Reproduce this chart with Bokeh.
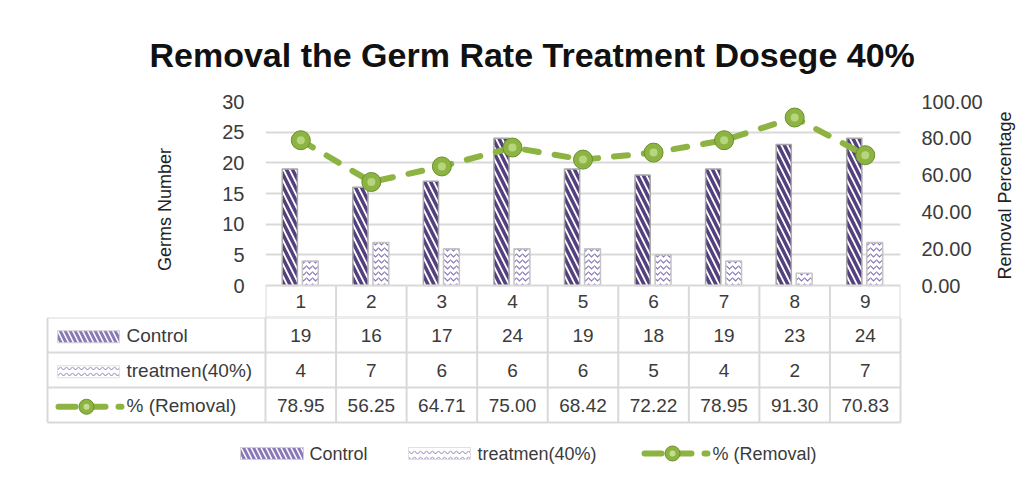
import math
from bokeh.plotting import figure
from bokeh.layouts import column, row
from bokeh.models import Range1d, LinearAxis, FixedTicker, PrintfTickFormatter, ColumnDataSource
from bokeh.transform import dodge
from bokeh.core.properties import value
from bokeh.embed import file_html
from bokeh.resources import INLINE

# ---------------- data ----------------
categories = [1, 2, 3, 4, 5, 6, 7, 8, 9]
control = [19, 16, 17, 24, 19, 18, 19, 23, 24]
treatment = [4, 7, 6, 6, 6, 5, 4, 2, 7]
removal = [78.95, 56.25, 64.71, 75.00, 68.42, 72.22, 78.95, 91.30, 70.83]
series_names = ["Control", "treatmen(40%)", "% (Removal)"]
left_ticks = [0, 5, 10, 15, 20, 25, 30]
right_ticks = [0, 20, 40, 60, 80, 100]
title_text = "Removal the Germ Rate Treatment Dosege 40%"
left_title = "Germs Number"
right_title = "Removal Percentage"

# ---------------- style ----------------
FONT = "Liberation Sans"
TXT = "#3b3b3b"
GRID = "#d9d9d9"
PURPLE = "#54407f"
PURPLE_L = "#8a78b8"
GREEN = "#8db443"
GREEN_D = "#6a8f2a"
GREEN_L = "#c2dd8c"

W = 1027
SIDE_X = 990                         # where the strip holding the secondary title starts
FRAME_L, FRAME_R = 265, 900
FRAME_T, ZERO_Y = 101, 285
COLW = (FRAME_R - FRAME_L) / 9.0     # pixel width of a category column
PXY = (ZERO_Y - FRAME_T) / 30.0      # pixels per germ unit
HEADER_PX = 32                       # header row height
ROW_PX = 35
TOP_H = ZERO_Y + HEADER_PX
BOT_H = 161

def px2x(px):
    # page-pixel x -> category data x (layout helper)
    return 0.5 + (px - FRAME_L) / COLW

y_low = -HEADER_PX / PXY
p_low = y_low * 100 / 30
src = ColumnDataSource(dict(x=categories, control=control, treatment=treatment, removal=removal,
                            lab=[str(c) for c in categories]))

# ================= top figure: chart =================
top = figure(width=SIDE_X, height=TOP_H, output_backend="svg", toolbar_location=None,
             x_range=Range1d(0.5, 9.5), y_range=Range1d(y_low, 30),
             min_border_left=FRAME_L, min_border_right=SIDE_X - FRAME_R, min_border_top=FRAME_T,
             min_border_bottom=0, x_axis_location=None, y_axis_location=None, frame_align=False)
top.outline_line_color = None
top.xgrid.visible = False
top.extra_y_ranges = {"pct": Range1d(p_low, 100)}

yl = LinearAxis(ticker=FixedTicker(ticks=left_ticks), axis_label=left_title)
yr = LinearAxis(ticker=FixedTicker(ticks=right_ticks), y_range_name="pct",
                formatter=PrintfTickFormatter(format="%.2f"))
for ax, so, lso in ((yl, 21, 44), (yr, 21, 10)):
    ax.axis_line_color = None
    ax.major_tick_line_color = None
    ax.minor_tick_line_color = None
    ax.major_tick_out = 0
    ax.major_tick_in = 0
    ax.minor_tick_out = 0
    ax.minor_tick_in = 0
    ax.major_label_text_font = FONT
    ax.major_label_text_font_size = "20px"
    ax.major_label_text_color = TXT
    ax.major_label_standoff = so
    ax.axis_label_text_font = FONT
    ax.axis_label_text_font_size = "18px"
    ax.axis_label_text_font_style = "normal"
    ax.axis_label_text_color = "#222222"
    ax.axis_label_standoff = lso
top.add_layout(yl, "left")
top.add_layout(yr, "right")
top.ygrid.ticker = FixedTicker(ticks=left_ticks[1:])
top.ygrid.grid_line_color = GRID
top.ygrid.grid_line_width = 2

top.title.text = title_text
top.title.text_font = FONT
top.title.text_font_size = "34px"
top.title.text_font_style = "bold"
top.title.text_color = "#111111"
top.title.align = "left"
top.title.offset = -116
top.title.standoff = 55

# bars
top.vbar(x=dodge("x", -0.155), top="control", width=0.215, source=src, bottom=0,
         fill_color="white", line_color="#a8a8a8", line_width=1.5,
         hatch_pattern="\\", hatch_color=PURPLE, hatch_weight=3.5, hatch_scale=12)
top.vbar(x=dodge("x", 0.135), top="treatment", width=0.225, source=src, bottom=0,
         fill_color="white", line_color="#c4c4c4", line_width=1.5,
         hatch_pattern="horizontal_wave", hatch_color=PURPLE_L, hatch_weight=1.2, hatch_scale=6)

# header row of the data table (category labels)
top.segment(x0=[0.5], y0=[0], x1=[9.5], y1=[0], line_color=GRID, line_width=2)
vx = [c - 0.5 for c in categories] + [categories[-1] + 0.5]
top.segment(x0=vx, y0=[0] * len(vx), x1=vx, y1=[y_low] * len(vx), line_color=GRID, line_width=2)
top.segment(x0=[0.5], y0=[y_low], x1=[9.5], y1=[y_low], line_color=GRID, line_width=2)
top.text(x="x", y=-(HEADER_PX / 2) / PXY, text="lab", source=src, text_align="center",
         text_baseline="middle", text_font=value(FONT), text_font_size=value("19px"), text_color=TXT)

# removal line
top.line(x="x", y="removal", source=src, y_range_name="pct", line_color=GREEN, line_width=6,
         line_dash="14 16", line_cap="round")
top.scatter(x="x", y="removal", source=src, y_range_name="pct", size=19, fill_color=GREEN,
            line_color=GREEN_D, line_width=1)
top.scatter(x="x", y="removal", source=src, y_range_name="pct", size=8, fill_color=GREEN_L,
            line_color=None, fill_alpha=0.8)

# ================= side strip: secondary axis title (reads bottom-to-top) =================
side = figure(width=W - SIDE_X, height=TOP_H, output_backend="svg", toolbar_location=None,
              x_range=Range1d(SIDE_X, W), y_range=Range1d(TOP_H, 0),
              min_border=0, x_axis_location=None, y_axis_location=None, frame_align=False)
side.outline_line_color = None
side.grid.visible = False
side.text(x=[1004], y=[(FRAME_T + ZERO_Y) / 2 + 2], text=[right_title], angle=math.pi / 2,
          text_align="center", text_baseline="middle", text_font=value(FONT),
          text_font_size=value("18px"), text_color="#222222")

# ================= bottom figure: data table + legend =================
bot = figure(width=W, height=BOT_H, output_backend="svg", toolbar_location=None,
             x_range=Range1d(px2x(0), px2x(W)), y_range=Range1d(BOT_H / ROW_PX, 0),
             min_border=0, x_axis_location=None, y_axis_location=None, frame_align=False)
bot.outline_line_color = None
bot.grid.visible = False

n_rows = len(series_names)
left_edge = px2x(47)
hx0 = [left_edge] * (n_rows + 1)
hx1 = [9.5] * (n_rows + 1)
hy = list(range(n_rows + 1))
bot.segment(x0=hx0, y0=hy, x1=hx1, y1=hy, line_color=GRID, line_width=2)
vxs = [left_edge] + vx
bot.segment(x0=vxs, y0=[0] * len(vxs), x1=vxs, y1=[n_rows] * len(vxs), line_color=GRID, line_width=2)

rows = [control, treatment, [f"{v:.2f}" for v in removal]]
tx, ty, tt = [], [], []
for r, vals in enumerate(rows):
    for c, v in zip(categories, vals):
        tx.append(c); ty.append(r + 0.5); tt.append(str(v))
bot.text(x=tx, y=ty, text=tt, text_align="center", text_baseline="middle",
         text_font=value(FONT), text_font_size=value("19px"), text_color=TXT)


def icon_bar(fig, px0, px1, yc, kind):
    xc = (px2x(px0) + px2x(px1)) / 2
    w = px2x(px1) - px2x(px0)
    h = 12 / ROW_PX
    if kind == 0:
        fig.rect(x=[xc], y=[yc], width=w, height=h, fill_color="white", line_color="#d0d0d0",
                 hatch_pattern="\\", hatch_color=PURPLE_L, hatch_weight=3, hatch_scale=10)
    else:
        fig.rect(x=[xc], y=[yc], width=w, height=h, fill_color="white", line_color="#e0e0e0",
                 hatch_pattern="horizontal_wave", hatch_color=PURPLE_L, hatch_weight=1, hatch_scale=6)


def icon_line(fig, px0, yc):
    fig.line(x=[px2x(px0 + 3), px2x(px0 + 66)], y=[yc, yc], line_color=GREEN, line_width=6,
             line_dash="17 13", line_cap="round")
    fig.scatter(x=[px2x(px0 + 31)], y=[yc], size=15, fill_color=GREEN, line_color=GREEN_D, line_width=1)
    fig.scatter(x=[px2x(px0 + 31)], y=[yc], size=6, fill_color=GREEN_L, line_color=None)


# row headers of the table
for r, name in enumerate(series_names):
    yc = r + 0.55
    if r < 2:
        icon_bar(bot, 57, 119, yc, r)
    else:
        icon_line(bot, 55, yc)
bot.text(x=[px2x(126)] * n_rows, y=[r + 0.5 for r in range(n_rows)], text=series_names,
         text_align="left", text_baseline="middle", text_font=value(FONT),
         text_font_size=value("19px"), text_color=TXT)

# legend
ly = (453 - TOP_H) / ROW_PX
icon_bar(bot, 240, 303, ly, 0)
icon_bar(bot, 408, 470, ly, 1)
icon_line(bot, 641, ly)
bot.text(x=[px2x(309), px2x(477), px2x(712)], y=[ly] * 3, text=series_names, text_align="left",
         text_baseline="middle", text_font=value(FONT), text_font_size=value("18px"), text_color=TXT)

layout = column(row(top, side, spacing=0), bot, spacing=0)
open("out.html", "w").write(file_html(layout, INLINE))
